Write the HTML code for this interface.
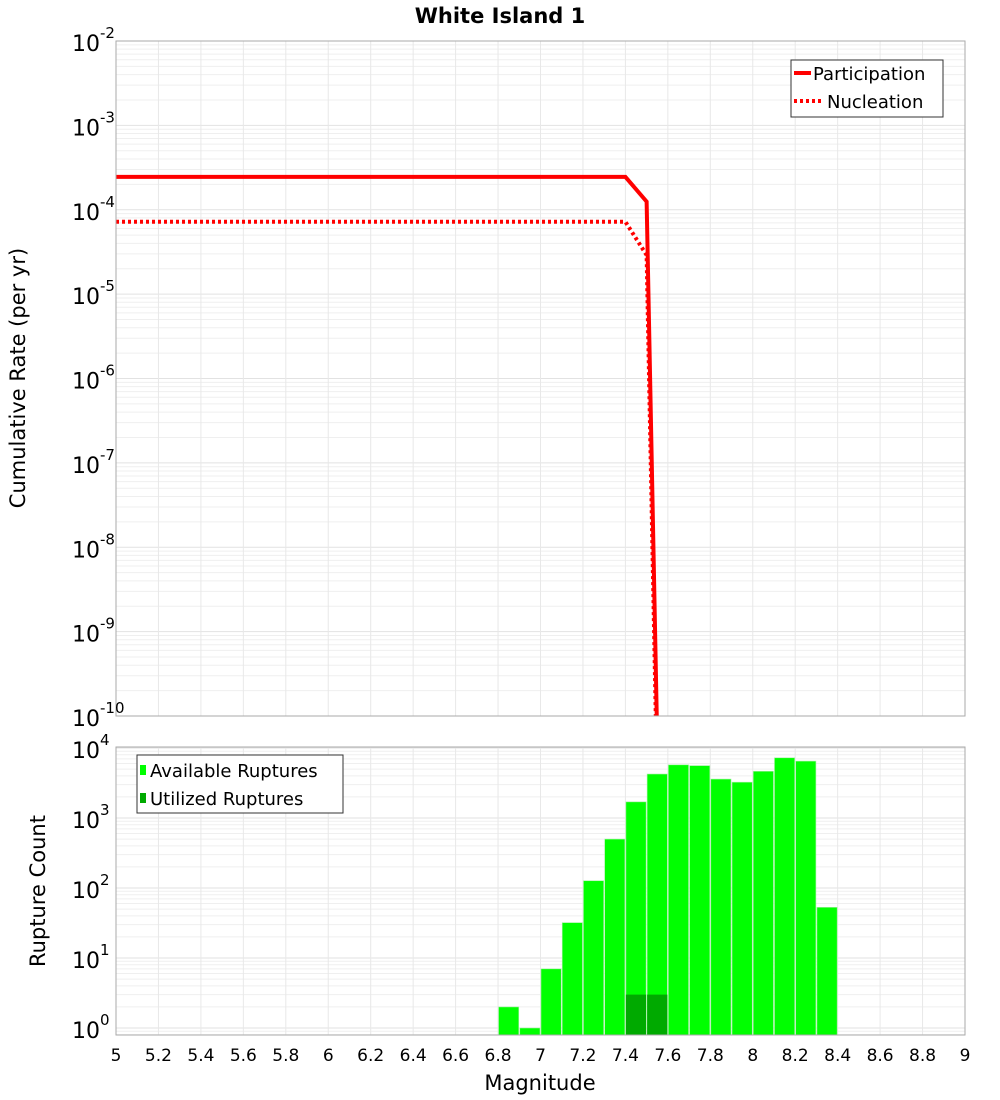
<!DOCTYPE html>
<html><head><meta charset="utf-8"><style>
html,body{margin:0;padding:0;background:#fff;}
svg{display:block;font-family:"DejaVu Sans","Liberation Sans",sans-serif;}
</style></head><body>
<svg id="chart" width="1000" height="1100" xmlns="http://www.w3.org/2000/svg">
<text x="500" y="23" text-anchor="middle" font-size="21" font-weight="bold">White Island 1</text>
<g id="topG"></g>
<g id="botG"></g>
<text transform="translate(25,378) rotate(-90)" text-anchor="middle" font-size="21">Cumulative Rate (per yr)</text>
<text transform="translate(45,891) rotate(-90)" text-anchor="middle" font-size="21">Rupture Count</text>
<text x="540" y="1090" text-anchor="middle" font-size="21">Magnitude</text>
</svg>
<script>
const xTicks = [5,5.2,5.4,5.6,5.8,6,6.2,6.4,6.6,6.8,7,7.2,7.4,7.6,7.8,8,8.2,8.4,8.6,8.8,9];
const partMags = [5,7.4,7.5,7.6];
const partRates = [2.45e-4,2.45e-4,1.25e-4,2e-17];
const nuclMags = [5,7.4,7.5,7.6];
const nuclRates = [7.2e-5,7.2e-5,2.9e-5,6e-18];
const binMags = [6.8,6.9,7.0,7.1,7.2,7.3,7.4,7.5,7.6,7.7,7.8,7.9,8.0,8.1,8.2,8.3];
const availCounts = [2,1,7,32,127,500,1700,4250,5750,5600,3600,3250,4650,7250,6500,53];
const utilMags = [7.4,7.5];
const utilCounts = [3,3];
const topExps = [-10,-9,-8,-7,-6,-5,-4,-3,-2];
const botExps = [0,1,2,3,4];

const NS="http://www.w3.org/2000/svg";
const L=116,R=965;
const T1=41,B1=716, T2=747,B2=1035;
const xs=m=>L+(m-5)/4*(R-L);
const yTop=v=>B1-(Math.log10(v)+10)/8*(B1-T1);
const yBot=v=>1028-Math.log10(v)*70;
function el(tag,attrs,parent){const e=document.createElementNS(NS,tag);for(const k in attrs)e.setAttribute(k,attrs[k]);parent.appendChild(e);return e;}
const topG=document.getElementById('topG'), botG=document.getElementById('botG');

const defs=el('defs',{},document.getElementById('chart'));
const c1=el('clipPath',{id:'c1'},defs);el('rect',{x:L,y:T1,width:R-L,height:B1-T1},c1);
const c2=el('clipPath',{id:'c2'},defs);el('rect',{x:L,y:T2,width:R-L,height:B2-T2},c2);

const g1=el('g',{'clip-path':'url(#c1)'},topG);


for(const e of topExps){for(let k=1;k<10;k++){const v=k*Math.pow(10,e);const yy=yTop(v);if(yy<T1-0.5)continue;
 el('line',{x1:L,x2:R,y1:yy,y2:yy,stroke:k==1?'#e2e2e2':'#efefef','stroke-width':1},g1);}}
for(const t of xTicks){el('line',{x1:xs(t),x2:xs(t),y1:T1,y2:B1,stroke:'#e8e8e8'},g1);}
const g2=el('g',{'clip-path':'url(#c2)'},botG);


for(let e=-1;e<=4;e++){for(let k=1;k<10;k++){const v=k*Math.pow(10,e);const yy=yBot(v);if(yy<T2-0.5||yy>B2)continue;
 el('line',{x1:L,x2:R,y1:yy,y2:yy,stroke:k==1?'#e2e2e2':'#efefef'},g2);}}
for(const t of xTicks){el('line',{x1:xs(t),x2:xs(t),y1:T2,y2:B2,stroke:'#e8e8e8'},g2);}

function poly(ms,vs,dash,name){const p=el('polyline',{points:ms.map((m,i)=>xs(m)+','+yTop(vs[i])).join(' '),fill:'none',stroke:'#ff0000','stroke-width':4,'stroke-dasharray':dash,'clip-path':'url(#c1)'},topG);
 
 }
poly(nuclMags,nuclRates,'3,3','nucleation-line');
poly(partMags,partRates,'none','participation-line');

const bw=xs(5.1)-xs(5);
binMags.forEach((m,i)=>{const r=el('rect',{x:xs(m)+0.5,y:yBot(availCounts[i]),width:bw-1,height:B2-yBot(availCounts[i]),fill:'#00ff00',stroke:'#a8f0a8','stroke-width':0.6,'clip-path':'url(#c2)'},botG);
 
 });
utilMags.forEach((m,i)=>{const r=el('rect',{x:xs(m)+0.5,y:yBot(utilCounts[i]),width:bw-1,height:B2-yBot(utilCounts[i]),fill:'#00aa00','clip-path':'url(#c2)'},botG);
 
 });

const f1=el('rect',{x:L,y:T1,width:R-L,height:B1-T1,fill:'none',stroke:'#aaa'},topG);


const f2=el('rect',{x:L,y:T2,width:R-L,height:B2-T2,fill:'none',stroke:'#aaa'},botG);



function ylab(parent,yy,e,name){const t=el('text',{x:72,y:yy+10,'text-anchor':'start','font-size':22},parent);
 
 
 t.textContent='10';const s=el('tspan',{dy:-13,'font-size':15},t);s.textContent=String(e);}
topExps.forEach(e=>ylab(topG,yTop(Math.pow(10,e)),e,'top-y-tick-label'));
botExps.forEach(e=>ylab(botG,yBot(Math.pow(10,e)),e,'bottom-y-tick-label'));
xTicks.forEach(t=>{const tx=el('text',{x:xs(t),y:1061,'text-anchor':'middle','font-size':17},botG);
 
 
 tx.textContent=String(t);});

const lg1=el('g',{},topG);


el('rect',{x:791,y:60,width:152,height:57,fill:'#fff',stroke:'#333'},lg1);
el('line',{x1:794,x2:811,y1:73,y2:73,stroke:'#f00','stroke-width':4},lg1);
el('line',{x1:794,x2:823,y1:101,y2:101,stroke:'#f00','stroke-width':4,'stroke-dasharray':'3,3'},lg1);
let t=el('text',{x:813,y:80,'font-size':18},lg1);t.textContent='Participation';
t=el('text',{x:827,y:108,'font-size':18},lg1);t.textContent='Nucleation';
const lg2=el('g',{},botG);


el('rect',{x:137,y:755,width:206,height:58,fill:'#fff',stroke:'#333'},lg2);
el('rect',{x:140,y:765,width:6,height:10,fill:'#00ff00'},lg2);
el('rect',{x:140,y:793,width:6,height:10,fill:'#00aa00'},lg2);
t=el('text',{x:150,y:777,'font-size':18},lg2);t.textContent='Available Ruptures';
t=el('text',{x:150,y:805,'font-size':18},lg2);t.textContent='Utilized Ruptures';
</script>
</body></html>
